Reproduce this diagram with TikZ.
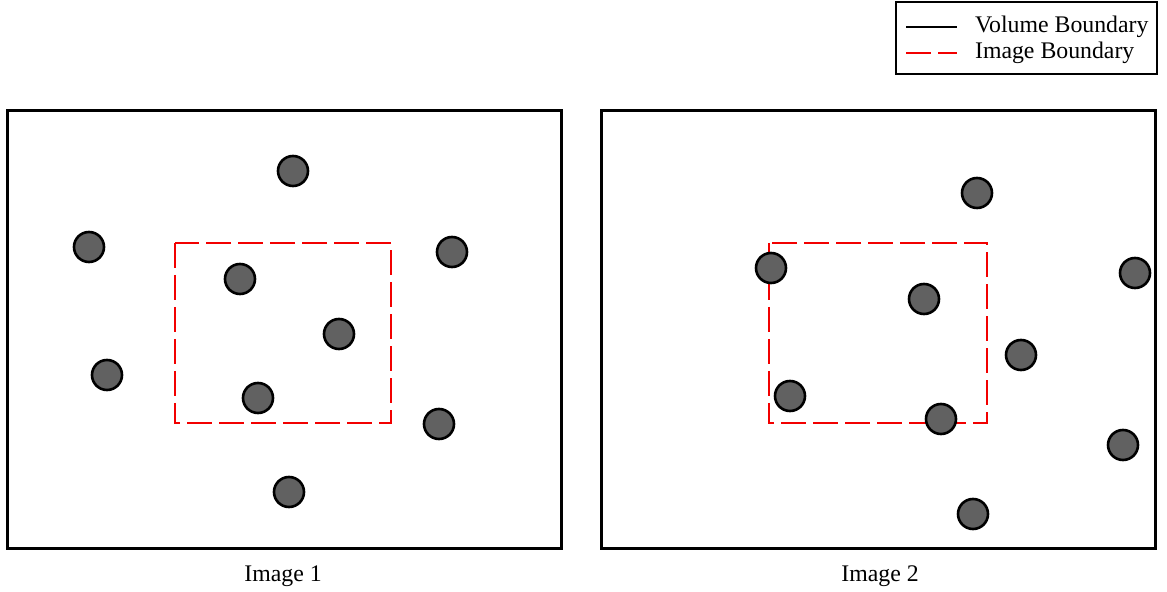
\documentclass[tikz,border=0pt]{standalone}
\usepackage{fontspec}
\setmainfont{Liberation Serif}
\usepackage{tikz}

\tikzset{
  volbound/.style={draw=black,line width=1.5pt},
  imgbound/.style={draw=red!95!black,line width=1.35pt,dash pattern=on 12.5pt off 3.5pt},
  particle/.style={circle,draw=black,fill=black!62,line width=1.3pt,minimum size=15pt,inner sep=0pt},
  caption/.style={font=\fontsize{11.9}{14}\selectfont}
}

\begin{document}
\begin{tikzpicture}[x=0.5pt,y=-0.5pt]
            \useasboundingbox (0,0) rectangle (1167,592);
            % legend
            \draw[line width=1.2pt] (896,2) rectangle (1157,74);
            \coordinate (la) at (906,27);
            \coordinate (lb) at (957,27);
            \coordinate (lc) at (906,53);
            \coordinate (ld) at (957,53);
            \draw[line width=1.2pt] (la) -- (lb);
            \draw[imgbound] (lc) -- (ld);
            \node[caption,anchor=west] (vb) at (968,27) {Volume Boundary};
            \node[caption,anchor=west] (ib) at (968,53) {Image Boundary};
            % image 1
            \draw[volbound] (7,111) rectangle (561,549);
            \draw[imgbound] (175,243) rectangle (391,423);
            \node[particle] (p1) at (293,171) {};
            \node[particle] (p2) at (89,247) {};
            \node[particle] (p3) at (452,252) {};
            \node[particle] (p4) at (240,279) {};
            \node[particle] (p5) at (339,334) {};
            \node[particle] (p6) at (107,375) {};
            \node[particle] (p7) at (258,398) {};
            \node[particle] (p8) at (439,424) {};
            \node[particle] (p9) at (289,492) {};
            \node[caption] (c1) at (283,576) {Image 1};
            % image 2
            \draw[volbound] (601,111) rectangle (1155,549);
            \draw[imgbound] (769,243) rectangle (987,423);
            \node[particle] (q1) at (977,193) {};
            \node[particle] (q2) at (771,268) {};
            \node[particle] (q3) at (1135,273) {};
            \node[particle] (q4) at (924,299) {};
            \node[particle] (q5) at (1021,355) {};
            \node[particle] (q6) at (790,396) {};
            \node[particle] (q7) at (941,419) {};
            \node[particle] (q8) at (1123,445) {};
            \node[particle] (q9) at (973,514) {};
            \node[caption] (c2) at (880,576) {Image 2};
        \end{tikzpicture}
\end{document}
